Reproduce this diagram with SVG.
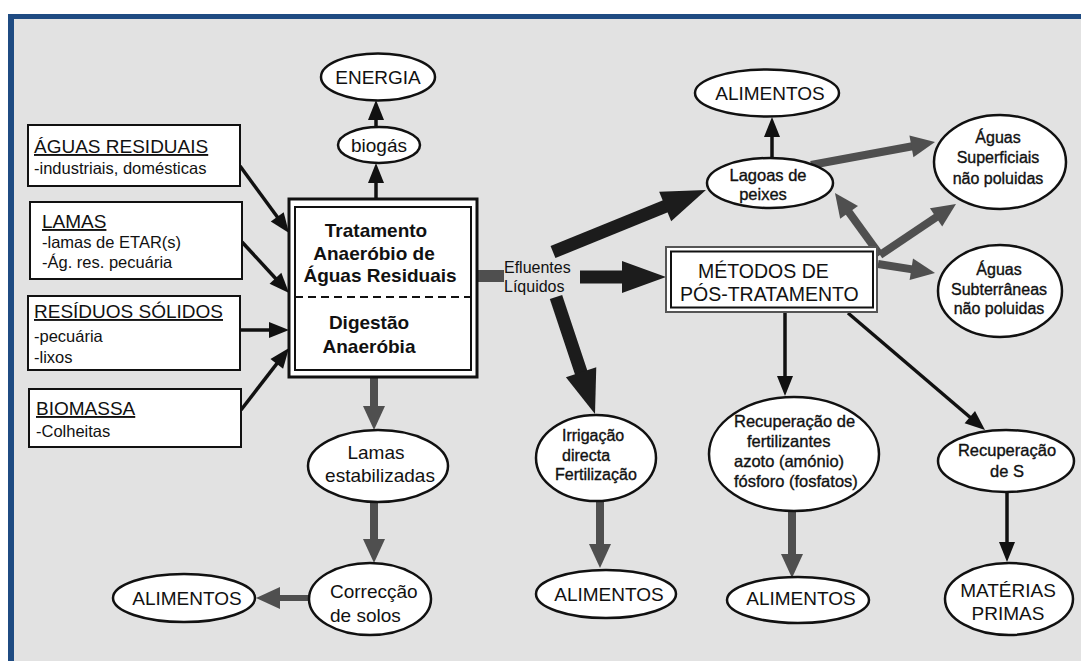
<svg xmlns="http://www.w3.org/2000/svg" width="1081" height="661" viewBox="0 0 1081 661">
<defs>
<style>
text{font-family:"Liberation Sans",Arial,sans-serif;fill:#111}
.box{fill:#fff;stroke:#111;stroke-width:2}
.ell{fill:#fff;stroke:#111;stroke-width:2.5}
.t19{font-size:19px}
.t16{font-size:16.5px}
.t16b{font-size:16px}
.hv{stroke:#111;stroke-width:0.35}
.c{text-anchor:middle}
.ttl{font-size:19px;text-decoration:underline}
.bold{font-size:19px;font-weight:bold;text-anchor:middle}
.thin{stroke:#111;stroke-width:3.5;fill:none;marker-end:url(#mthin)}
.gray{stroke:#4f4f4f;stroke-width:8;fill:none;marker-end:url(#mgray)}
.thick{stroke:#1c1c1c;stroke-width:13;fill:none;marker-end:url(#mthick)}
</style>
<marker id="mthin" markerUnits="userSpaceOnUse" viewBox="0 -10 24 20" markerWidth="24" markerHeight="20" refX="3" refY="0" orient="auto" overflow="visible"><path d="M0,-8 L20,0 L0,8 z" fill="#111"/></marker>
<marker id="mgray" markerUnits="userSpaceOnUse" viewBox="0 -14 30 28" markerWidth="30" markerHeight="28" refX="1" refY="0" orient="auto" overflow="visible"><path d="M0,-11 L24,0 L0,11 z" fill="#4f4f4f"/></marker>
<marker id="mthick" markerUnits="userSpaceOnUse" viewBox="0 -18 48 36" markerWidth="48" markerHeight="36" refX="1" refY="0" orient="auto" overflow="visible"><path d="M0,-16 L44,0 L0,16 z" fill="#1c1c1c"/></marker>
</defs>
<rect x="0" y="0" width="1081" height="661" fill="#fff"/>
<rect x="8" y="14" width="1073" height="647" fill="#e2e2e2"/>
<rect x="8" y="14" width="1073" height="5" fill="#1f4b82"/>
<rect x="8" y="14" width="6" height="647" fill="#1f4b82"/>

<g id="connectors">
<line class="thin" x1="376" y1="199" x2="376" y2="180"/>
<line class="thin" x1="376" y1="127" x2="376" y2="117"/>
<line class="thin" x1="240" y1="166" x2="279" y2="219.3"/>
<line class="thin" x1="242" y1="242" x2="277.5" y2="280.5"/>
<line class="thin" x1="240" y1="330" x2="272" y2="330"/>
<line class="thin" x1="241" y1="410" x2="278.6" y2="361.4"/>
<line class="thin" x1="772" y1="158" x2="772" y2="134"/>
<line class="thin" x1="785" y1="311" x2="785" y2="379"/>
<line class="thin" x1="848" y1="313" x2="972.1" y2="419"/>
<line class="thin" x1="1007" y1="492" x2="1007" y2="545"/>
<line class="gray" x1="374" y1="377" x2="374" y2="407"/>
<line class="gray" x1="374" y1="502" x2="374" y2="540"/>
<line class="gray" x1="309" y1="598" x2="279" y2="598" style="stroke-width:6"/>
<line class="gray" x1="600" y1="502" x2="600" y2="545"/>
<line class="gray" x1="792" y1="512" x2="792" y2="555"/>
<line class="gray" x1="811" y1="165" x2="912.4" y2="146.2"/>
<line class="gray" x1="880" y1="255" x2="848.5" y2="211.6"/>
<line class="gray" x1="880" y1="255" x2="936.9" y2="216.8"/>
<line class="gray" x1="878" y1="264" x2="912.3" y2="269.4"/>
<rect x="477" y="270" width="27" height="12" fill="#4f4f4f"/>
<line class="thick" x1="553" y1="252" x2="666.1" y2="206.1"/>
<line class="thick" x1="580" y1="277" x2="623" y2="277"/>
<line class="thick" x1="556" y1="297" x2="581.4" y2="373.2"/>
</g>

<g id="aguas-residuais">
<rect class="box" x="28" y="125" width="212" height="61"/>
<text class="ttl" x="34" y="153">ÁGUAS RESIDUAIS</text>
<text class="t16" x="34" y="174">-industriais, domésticas</text>
</g>
<g id="lamas">
<rect class="box" x="30" y="202" width="212" height="77"/>
<text class="ttl" x="42" y="228">LAMAS</text>
<text class="t16" x="42" y="248">-lamas de ETAR(s)</text>
<text class="t16" x="42" y="268">-Ág. res. pecuária</text>
</g>
<g id="residuos-solidos">
<rect class="box" x="28" y="296" width="212" height="74"/>
<text class="ttl" x="34" y="318">RESÍDUOS SÓLIDOS</text>
<text class="t16" x="34" y="342">-pecuária</text>
<text class="t16" x="34" y="363">-lixos</text>
</g>
<g id="biomassa">
<rect class="box" x="29" y="389" width="212" height="58"/>
<text class="ttl" x="36" y="415">BIOMASSA</text>
<text class="t16" x="36" y="437">-Colheitas</text>
</g>

<g id="tratamento">
<rect x="289" y="199" width="188" height="178" fill="#fff" stroke="#111" stroke-width="3"/>
<rect x="295" y="207" width="176" height="163" fill="none" stroke="#111" stroke-width="2"/>
<line x1="295" y1="297" x2="471" y2="297" stroke="#111" stroke-width="2" stroke-dasharray="8,5"/>
<text class="bold" x="376" y="237">Tratamento</text>
<text class="bold" x="374" y="260">Anaeróbio de</text>
<text class="bold" x="380" y="282">Águas Residuais</text>
<text class="bold" x="369" y="329">Digestão</text>
<text class="bold" x="369" y="353">Anaeróbia</text>
</g>

<g id="efluentes">
<text class="t16b" x="504" y="273">Efluentes</text>
<text class="t16b" x="504" y="292">Líquidos</text>
</g>

<g id="energia">
<ellipse class="ell" cx="378" cy="77" rx="57" ry="23.5"/>
<text class="t19 c" x="378" y="84">ENERGIA</text>
</g>
<g id="biogas">
<ellipse class="ell" cx="379" cy="145" rx="41" ry="18"/>
<text class="t19 c" x="379" y="152">biogás</text>
</g>
<g id="lamas-estabilizadas">
<ellipse class="ell" cx="378" cy="466" rx="70" ry="36"/>
<text class="t19 c" x="376" y="459">Lamas</text>
<text class="t19 c" x="380" y="482">estabilizadas</text>
</g>
<g id="correccao">
<ellipse class="ell" cx="370" cy="599" rx="61" ry="36"/>
<text class="t19" x="330" y="598">Correcção</text>
<text class="t19" x="330" y="622">de solos</text>
</g>
<g id="alimentos-1">
<ellipse class="ell" cx="184" cy="598" rx="71" ry="24"/>
<text class="t19 c" x="187" y="605">ALIMENTOS</text>
</g>

<g id="alimentos-top">
<ellipse class="ell" cx="767" cy="93" rx="72" ry="23.5"/>
<text class="t19 c" x="770" y="100">ALIMENTOS</text>
</g>
<g id="lagoas">
<ellipse class="ell" cx="770" cy="183" rx="63" ry="25"/>
<text class="t16 c hv" x="768" y="181">Lagoas de</text>
<text class="t16 c hv" x="763" y="200">peixes</text>
</g>
<g id="aguas-superficiais">
<ellipse class="ell" cx="1000" cy="162" rx="66" ry="47"/>
<text class="t16b c hv" x="998" y="143">Águas</text>
<text class="t16b c hv" x="998" y="163">Superficiais</text>
<text class="t16b c hv" x="998" y="184">não poluidas</text>
</g>
<g id="aguas-subterraneas">
<ellipse class="ell" cx="1000" cy="291" rx="62" ry="46"/>
<text class="t16b c hv" x="999" y="275">Águas</text>
<text class="t16b c hv" x="999" y="295">Subterrâneas</text>
<text class="t16b c hv" x="999" y="314">não poluidas</text>
</g>
<g id="metodos">
<rect x="666" y="247" width="211" height="65" fill="#fff" stroke="#555" stroke-width="2"/>
<rect x="671" y="251.5" width="202" height="56" fill="none" stroke="#111" stroke-width="2"/>
<text class="t19" x="698" y="278" style="font-size:19.5px">MÉTODOS DE</text>
<text class="t19" x="680" y="301" style="font-size:19.5px">PÓS-TRATAMENTO</text>
</g>
<g id="irrigacao">
<ellipse class="ell" cx="596" cy="458" rx="60" ry="43"/>
<text class="t16b hv" x="562" y="441">Irrigação</text>
<text class="t16b hv" x="562" y="461">directa</text>
<text class="t16b hv" x="555" y="480">Fertilização</text>
</g>
<g id="alimentos-2">
<ellipse class="ell" cx="606" cy="594" rx="70" ry="24"/>
<text class="t19 c" x="609" y="601">ALIMENTOS</text>
</g>
<g id="recuperacao-fertilizantes">
<ellipse class="ell" cx="794" cy="454" rx="85" ry="57"/>
<text class="t16 hv" x="734" y="427">Recuperação de</text>
<text class="t16 hv" x="747" y="447">fertilizantes</text>
<text class="t16 hv" x="734" y="467">azoto (amónio)</text>
<text class="t16 hv" x="734" y="487">fósforo (fosfatos)</text>
</g>
<g id="alimentos-3">
<ellipse class="ell" cx="798" cy="600" rx="71" ry="23"/>
<text class="t19 c" x="801" y="605">ALIMENTOS</text>
</g>
<g id="recuperacao-s">
<ellipse class="ell" cx="1006" cy="461" rx="68" ry="31"/>
<text class="t16 c hv" x="1007" y="456">Recuperação</text>
<text class="t16 c hv" x="1007" y="477">de S</text>
</g>
<g id="materias-primas">
<ellipse class="ell" cx="1009" cy="599" rx="64" ry="36"/>
<text class="t19 c" x="1008" y="597">MATÉRIAS</text>
<text class="t19 c" x="1008" y="620">PRIMAS</text>
</g>
</svg>
